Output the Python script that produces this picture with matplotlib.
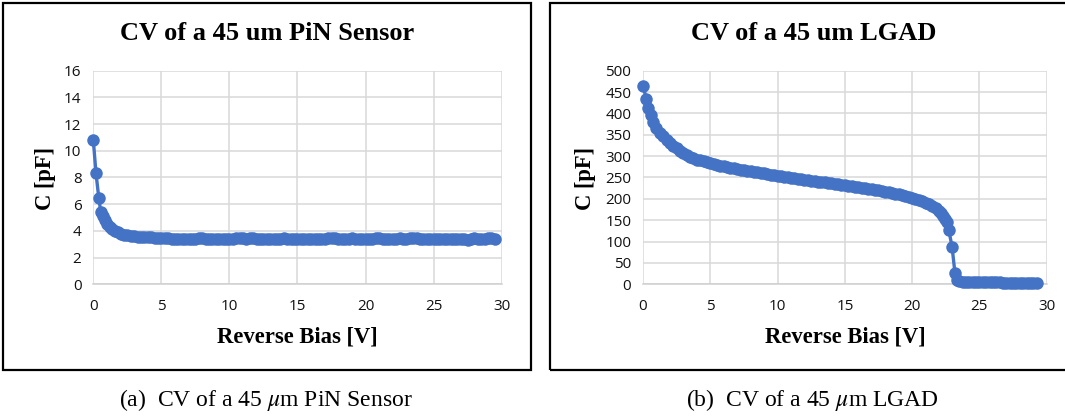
import matplotlib
matplotlib.use("Agg")
import matplotlib.pyplot as plt
from matplotlib.patches import Rectangle

# ---------------- data ----------------
pin_v = [0.0, 0.2, 0.4, 0.55, 0.7, 0.85, 1.0, 1.2, 1.4, 1.6, 1.8, 2.0, 2.25, 2.5, 2.75,
         3.0, 3.25, 3.5, 3.75, 4.0, 4.25, 4.5, 4.75, 5.0,
         5.25, 5.5, 5.75, 6.0, 6.25, 6.5, 6.75, 7.0,
         7.25, 7.5, 7.75, 8.0, 8.25, 8.5, 8.75, 9.0,
         9.25, 9.5, 9.75, 10.0, 10.25, 10.5, 10.75, 11.0,
         11.25, 11.5, 11.75, 12.0, 12.25, 12.5, 12.75, 13.0,
         13.25, 13.5, 13.75, 14.0, 14.25, 14.5, 14.75, 15.0,
         15.25, 15.5, 15.75, 16.0, 16.25, 16.5, 16.75, 17.0,
         17.25, 17.5, 17.75, 18.0, 18.25, 18.5, 18.75, 19.0,
         19.25, 19.5, 19.75, 20.0, 20.25, 20.5, 20.75, 21.0,
         21.25, 21.5, 21.75, 22.0, 22.25, 22.5, 22.75, 23.0,
         23.25, 23.5, 23.75, 24.0, 24.25, 24.5, 24.75, 25.0,
         25.25, 25.5, 25.75, 26.0, 26.25, 26.5, 26.75, 27.0,
         27.25, 27.5, 27.75, 28.0, 28.25, 28.5, 28.75, 29.0,
         29.25, 29.5]
pin_c = [10.8, 8.3, 6.5, 5.4, 5.1, 4.8, 4.5, 4.3, 4.15, 4.0, 3.9, 3.8, 3.72, 3.66, 3.62,
         3.6, 3.58, 3.56, 3.55, 3.53, 3.52, 3.5, 3.49, 3.47,
         3.45, 3.44, 3.43, 3.40, 3.41, 3.42, 3.40, 3.39,
         3.41, 3.42, 3.44, 3.47, 3.43, 3.42, 3.40, 3.41,
         3.42, 3.43, 3.41, 3.40, 3.42, 3.45, 3.46, 3.44,
         3.43, 3.46, 3.44, 3.42, 3.41, 3.43, 3.42, 3.41,
         3.40, 3.39, 3.41, 3.44, 3.43, 3.42, 3.40, 3.41,
         3.42, 3.40, 3.41, 3.42, 3.40, 3.41, 3.42, 3.43,
         3.45, 3.48, 3.44, 3.42, 3.41, 3.40, 3.42, 3.44,
         3.42, 3.41, 3.40, 3.40, 3.41, 3.42, 3.44, 3.46,
         3.42, 3.39, 3.40, 3.41, 3.42, 3.44, 3.43, 3.42,
         3.45, 3.47, 3.44, 3.41, 3.39, 3.38, 3.39, 3.40,
         3.41, 3.41, 3.42, 3.42, 3.41, 3.40, 3.40, 3.41,
         3.38, 3.35, 3.39, 3.44, 3.42, 3.40, 3.43, 3.45,
         3.44, 3.42]

lgad_v = [0.0, 0.25, 0.4, 0.57, 0.74,
          1.0, 1.25, 1.5, 1.75, 2.0, 2.25, 2.5, 2.75, 3.0, 3.25, 3.5, 3.75,
          4.0, 4.25, 4.5, 4.75, 5.0, 5.25, 5.5, 5.75, 6.0, 6.25, 6.5, 6.75,
          7.0, 7.25, 7.5, 7.75, 8.0, 8.25, 8.5, 8.75, 9.0, 9.25, 9.5, 9.75,
          10.0, 10.25, 10.5, 10.75, 11.0, 11.25, 11.5, 11.75, 12.0, 12.25, 12.5, 12.75,
          13.0, 13.25, 13.5, 13.75, 14.0, 14.25, 14.5, 14.75, 15.0, 15.25, 15.5, 15.75,
          16.0, 16.25, 16.5, 16.75, 17.0, 17.25, 17.5, 17.75, 18.0, 18.25, 18.5, 18.75,
          19.0, 19.25, 19.5, 19.75, 20.0, 20.25, 20.5, 20.75, 21.0, 21.25, 21.5, 21.75,
          22.0, 22.15, 22.3, 22.45, 22.6, 22.72, 22.97, 23.18, 23.3,
          23.5, 23.75, 24.0, 24.25, 24.5, 24.75, 25.0, 25.25, 25.5, 25.75, 26.0, 26.25,
          26.5, 26.75, 27.0, 27.25, 27.5, 27.75, 28.0, 28.25, 28.5, 28.75, 29.0, 29.25]
lgad_c = [465, 434, 412, 397, 381,
          366, 355, 346, 338, 331, 324, 318, 312, 307, 303, 299, 295.5,
          292, 290, 288, 286, 284, 282, 280, 278, 276.5, 274.5, 273, 271.5,
          270, 268.5, 267, 265.5, 264.5, 263, 262, 260.5, 259.5, 258, 257, 255.5,
          254.5, 253, 252, 250.5, 249.5, 248.5, 247.5, 246, 245, 243.5, 242.5, 241.5,
          240.5, 239.5, 238.5, 237.5, 236.5, 235, 234, 233, 232, 230.5, 229.5, 228,
          227, 226, 225, 223.5, 222.5, 221, 220, 218.5, 217, 215.5, 214, 212.5,
          210.5, 208.5, 206.5, 204.5, 202, 199.5, 197, 194, 191, 187, 183, 178,
          172, 167, 161, 154, 146, 128, 87, 27, 10,
          7, 6.2, 5.6, 5.3, 5.0, 4.8, 4.7, 4.6, 4.5, 4.4, 4.4, 4.3,
          4.3, 4.2, 4.2, 4.2, 4.1, 4.1, 4.1, 4.0, 4.0, 4.0, 4.0, 4.0]

x_ticks = [0, 5, 10, 15, 20, 25, 30]
pin_yticks = [0, 2, 4, 6, 8, 10, 12, 14, 16]
lgad_yticks = [0, 50, 100, 150, 200, 250, 300, 350, 400, 450, 500]

titles = ["CV of a 45 um PiN Sensor", "CV of a 45 um LGAD"]
captions = ["(a)  CV of a 45 $\\mu$m PiN Sensor", "(b)  CV of a 45 $\\mu$m LGAD"]
xlabel = "Reverse Bias [V]"
ylabel = "C [pF]"

# ---------------- layout ----------------
W, H = 1065, 420
plt.rcParams["mathtext.fontset"] = "stix"
fig = plt.figure(figsize=(W / 100, H / 100), dpi=100)
fig.patch.set_facecolor("white")

BLUE = "#4472C4"
GRID = "#d9d9d9"
SERIF = ["Liberation Serif"]


def rect(x0, x1, ytop, ybot):
    return [x0 / W, 1 - ybot / H, (x1 - x0) / W, (ybot - ytop) / H]


def style(ax, yticks):
    ax.set_xlim(0, 30)
    ax.set_ylim(yticks[0], yticks[-1])
    ax.set_xticks(x_ticks)
    ax.set_yticks(yticks)
    ax.grid(True, color=GRID, lw=1.1)
    ax.set_axisbelow(True)
    for s in ["top", "right", "left"]:
        ax.spines[s].set_visible(False)
    ax.spines["bottom"].set_color("#cfcfcf")
    ax.spines["bottom"].set_linewidth(1.1)
    ax.tick_params(length=0, labelsize=11, labelcolor="#111111")
    ax.tick_params(axis="x", pad=10.5)
    ax.tick_params(axis="y", pad=8.5)
    for lab in ax.get_xticklabels() + ax.get_yticklabels():
        lab.set_family("Open Sans")


panels = [
    dict(axr=(93.3, 501.7), v=pin_v, c=pin_c, yt=pin_yticks, box=(3, 531),
         ylx=45, cap_x=266),
    dict(axr=(643, 1046.7), v=lgad_v, c=lgad_c, yt=lgad_yticks, box=(550, 1078),
         ylx=585, cap_x=812),
]

for i, p in enumerate(panels):
    ax = fig.add_axes(rect(p["axr"][0], p["axr"][1], 70.7, 284.3))
    style(ax, p["yt"])
    ax.plot(p["v"], p["c"], "-o", color=BLUE, lw=2.4, ms=9.0,
            markeredgewidth=0, clip_on=False, zorder=3)

    bx0, bx1 = p["box"]
    fig.patches.append(Rectangle((bx0 / W, 1 - 369.5 / H), (bx1 - bx0) / W,
                                 (369.5 - 3) / H, transform=fig.transFigure,
                                 fill=False, ec="black", lw=1.6))
    cx = (bx0 + bx1) / 2
    fig.text(cx / W, 1 - 34 / H, titles[i], ha="center", va="center",
             family=SERIF, fontweight="bold", fontsize=19)
    axc = (p["axr"][0] + p["axr"][1]) / 2
    fig.text(axc / W, 1 - 337 / H, xlabel, ha="center", va="center",
             family=SERIF, fontweight="bold", fontsize=16.3)
    fig.text(p["ylx"] / W, 1 - 178 / H, ylabel, ha="center", va="center",
             rotation=90, family=SERIF, fontweight="bold", fontsize=16.3)
    fig.text(p["cap_x"] / W, 1 - 400 / H, captions[i], ha="center", va="center",
             family=["Liberation Serif"], fontsize=17)

fig.savefig("out.png", dpi=100, facecolor="white")
